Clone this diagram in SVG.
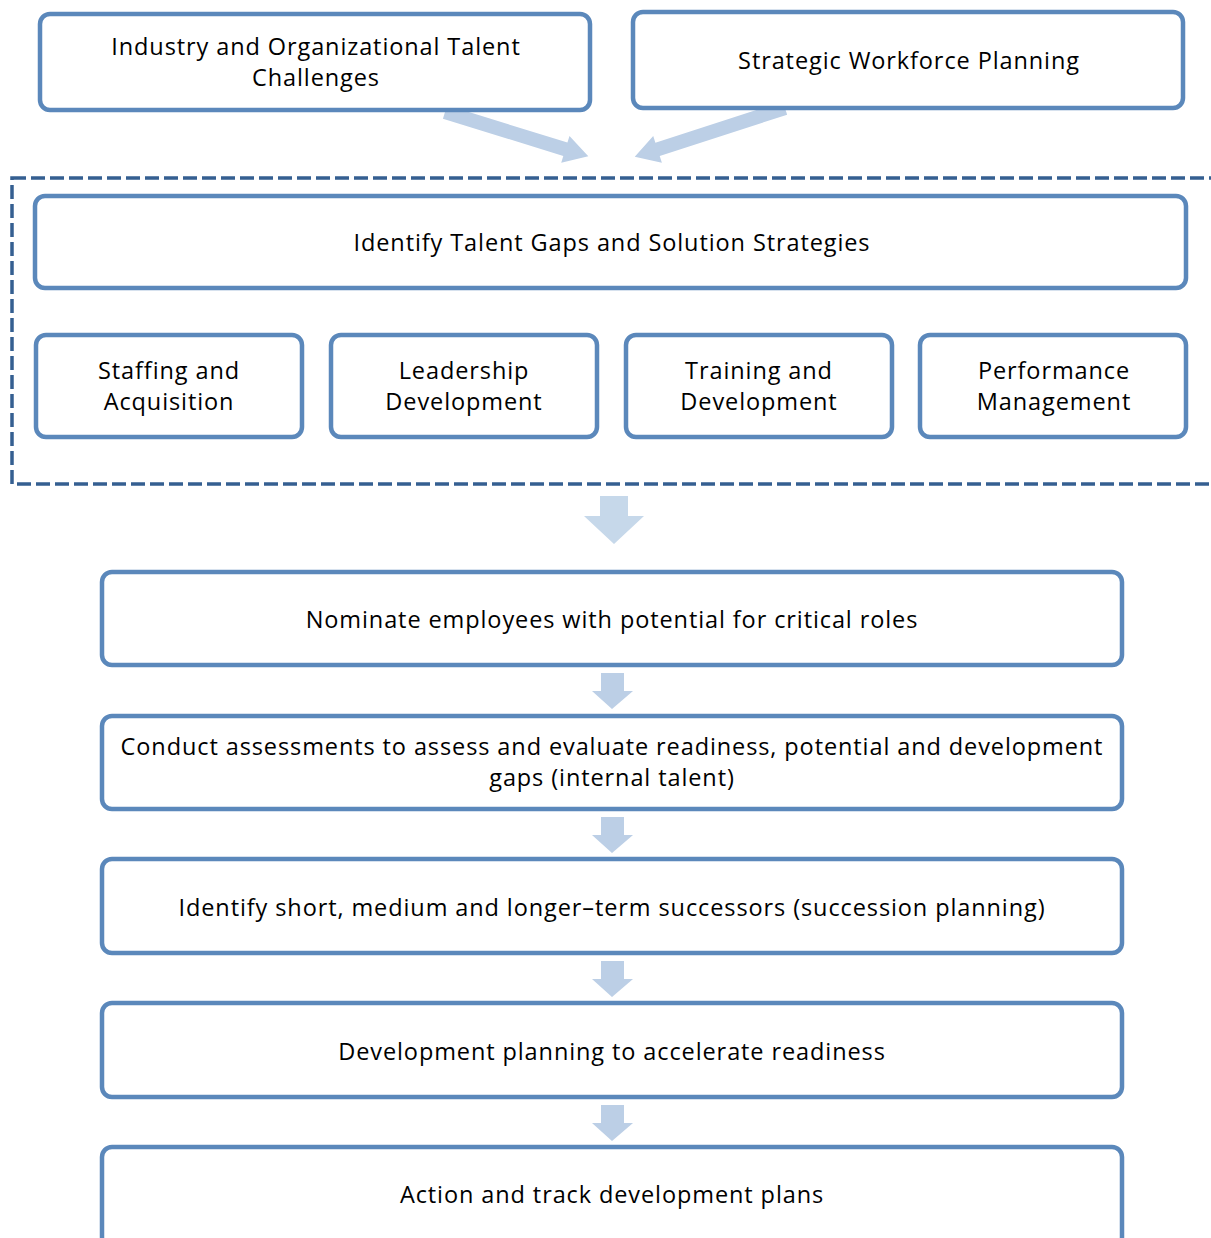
<svg xmlns="http://www.w3.org/2000/svg" width="1211" height="1238" viewBox="0 0 1211 1238">
<style>
.box{fill:#fff;stroke:#5b88bb;stroke-width:4.5}
.t{font-family:"Open Sans","Liberation Sans",sans-serif;font-size:23.5px;letter-spacing:0.9px;fill:#000;text-anchor:middle}
.arr{fill:#bccfe6}
.darr{fill:#c6d8ea}
</style>
<rect width="1211" height="1238" fill="#fff"/>
<g id="connectors">
<polygon class="arr" transform="translate(445,112) rotate(17.2)" points="0,-7 126,-7 126,-14 150,0 126,14 126,7 0,7"/>
<polygon class="arr" transform="translate(785,108) rotate(162)" points="0,-7 134,-7 134,-14 158,0 134,14 134,7 0,7"/>
<polygon class="darr" points="600,496 628,496 628,516 644,516 614,544 584,516 600,516"/>
<polygon class="arr" points="601,673 624,673 624,691 633,691 612,709 592,691 601,691"/>
<polygon class="arr" points="601,817 624,817 624,835 633,835 612,853 592,835 601,835"/>
<polygon class="arr" points="601,961 624,961 624,979 633,979 612,997 592,979 601,979"/>
<polygon class="arr" points="601,1105 624,1105 624,1123 633,1123 612,1141 592,1123 601,1123"/>
</g>
<g id="group-dashed">
<rect x="12" y="178" width="1215" height="306" fill="none" stroke="#355f91" stroke-width="3.5" stroke-dasharray="14,5"/>
</g>
<g id="n1"><rect class="box" x="40" y="14" width="550" height="96" rx="10"/><text class="t" x="316" y="55">Industry and Organizational Talent</text><text class="t" x="316" y="86">Challenges</text></g>
<g id="n2"><rect class="box" x="633" y="12" width="550" height="96" rx="10"/><text class="t" x="909" y="69">Strategic Workforce Planning</text></g>
<g id="n3"><rect class="box" x="35" y="196" width="1151" height="92" rx="10"/><text class="t" x="612" y="251">Identify Talent Gaps and Solution Strategies</text></g>
<g id="n4"><rect class="box" x="36" y="335" width="266" height="102" rx="10"/><text class="t" x="169" y="379">Staffing and</text><text class="t" x="169" y="410">Acquisition</text></g>
<g id="n5"><rect class="box" x="331" y="335" width="266" height="102" rx="10"/><text class="t" x="464" y="379">Leadership</text><text class="t" x="464" y="410">Development</text></g>
<g id="n6"><rect class="box" x="626" y="335" width="266" height="102" rx="10"/><text class="t" x="759" y="379">Training and</text><text class="t" x="759" y="410">Development</text></g>
<g id="n7"><rect class="box" x="920" y="335" width="266" height="102" rx="10"/><text class="t" x="1054" y="379">Performance</text><text class="t" x="1054" y="410">Management</text></g>
<g id="n8"><rect class="box" x="102" y="572" width="1020" height="93" rx="10"/><text class="t" x="612" y="628">Nominate employees with potential for critical roles</text></g>
<g id="n9"><rect class="box" x="102" y="716" width="1020" height="93" rx="10"/><text class="t" x="612" y="755">Conduct assessments to assess and evaluate readiness, potential and development</text><text class="t" x="612" y="786">gaps (internal talent)</text></g>
<g id="n10"><rect class="box" x="102" y="859" width="1020" height="94" rx="10"/><text class="t" x="612" y="916">Identify short, medium and longer–term successors (succession planning)</text></g>
<g id="n11"><rect class="box" x="102" y="1003" width="1020" height="94" rx="10"/><text class="t" x="612" y="1060">Development planning to accelerate readiness</text></g>
<g id="n12"><rect class="box" x="102" y="1147" width="1020" height="100" rx="10"/><text class="t" x="612" y="1203">Action and track development plans</text></g>
</svg>
